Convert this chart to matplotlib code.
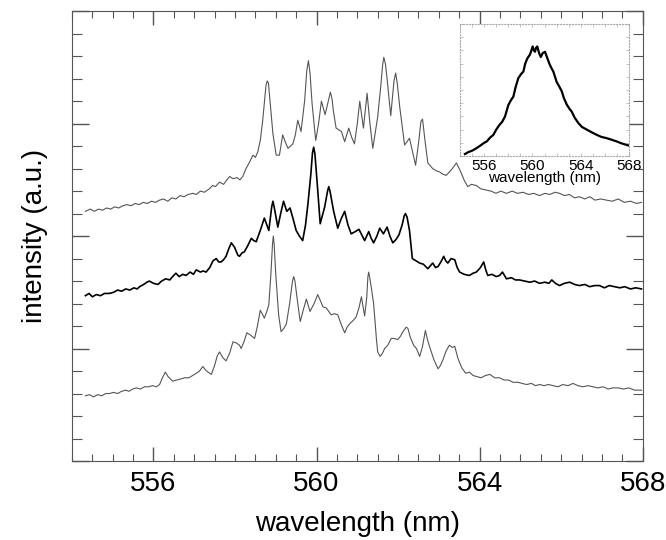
import numpy as np
import matplotlib
matplotlib.use('Agg')
import matplotlib.pyplot as plt
import matplotlib.ticker as tic

plt.rcParams['font.family'] = ['Liberation Sans', 'DejaVu Sans']

# top spectrum (thin grey)
wl_top = [554.33, 554.45, 554.55, 554.65, 554.75, 554.85, 554.95, 555.05, 555.15, 555.25,
          555.35, 555.45, 555.55, 555.65, 555.75, 555.85, 555.95, 556.05, 556.15, 556.25,
          556.35, 556.45, 556.55, 556.65, 556.75, 556.85, 556.96, 557.05, 557.15, 557.25,
          557.37, 557.45, 557.52, 557.62, 557.72, 557.80, 557.87, 557.95, 558.05, 558.12,
          558.19, 558.27, 558.36, 558.44, 558.50, 558.56, 558.62, 558.68, 558.73, 558.76,
          558.79, 558.82, 558.85, 558.93, 559.01, 559.09, 559.17, 559.23, 559.30, 559.36,
          559.42, 559.48, 559.54, 559.62, 559.71, 559.76, 559.80, 559.84, 559.89, 559.98,
          560.05, 560.12, 560.21, 560.30, 560.34, 560.38, 560.41, 560.48, 560.61, 560.69,
          560.79, 560.86, 560.93, 561.00, 561.06, 561.15, 561.24, 561.31, 561.38, 561.50,
          561.58, 561.62, 561.65, 561.69, 561.73, 561.82, 561.90, 561.94, 561.98, 562.04,
          562.16, 562.28, 562.36, 562.43, 562.51, 562.56, 562.60, 562.66, 562.73, 562.85,
          562.94, 563.02, 563.10, 563.18, 563.31, 563.43, 563.50, 563.55, 563.63, 563.71,
          563.80, 563.92, 564.03, 564.16, 564.28, 564.40, 564.52, 564.66, 564.80, 564.93,
          565.06, 565.20, 565.33, 565.47, 565.60, 565.72, 565.85, 565.96, 566.08, 566.20,
          566.33, 566.45, 566.58, 566.70, 566.83, 566.97, 567.11, 567.25, 567.40, 567.55,
          567.70, 567.85, 567.97]
i_top = [2.22, 2.24, 2.22, 2.24, 2.23, 2.25, 2.24, 2.26, 2.25, 2.27,
         2.28, 2.27, 2.29, 2.28, 2.30, 2.29, 2.31, 2.30, 2.32, 2.33,
         2.31, 2.34, 2.33, 2.36, 2.35, 2.37, 2.38, 2.37, 2.40, 2.39,
         2.42, 2.45, 2.44, 2.48, 2.46, 2.50, 2.53, 2.51, 2.52, 2.50,
         2.53, 2.60, 2.66, 2.72, 2.70, 2.75, 2.85, 3.03, 3.22, 3.34,
         3.38, 3.36, 3.24, 2.91, 2.72, 2.72, 2.90, 2.84, 2.78, 2.80,
         2.82, 2.90, 3.03, 2.93, 3.21, 3.47, 3.56, 3.45, 3.18, 2.85,
         3.00, 3.20, 3.08, 3.22, 3.28, 3.22, 3.12, 2.96, 2.93, 2.84,
         2.96, 2.88, 2.82, 3.00, 3.20, 2.96, 3.27, 3.00, 2.78, 3.06,
         3.35, 3.52, 3.59, 3.53, 3.40, 3.07, 3.38, 3.45, 3.36, 3.15,
         2.81, 2.87, 2.74, 2.63, 2.85, 3.02, 3.04, 2.85, 2.65, 2.60,
         2.58, 2.57, 2.55, 2.54, 2.59, 2.65, 2.60, 2.56, 2.49, 2.44,
         2.46, 2.45, 2.42, 2.41, 2.40, 2.38, 2.40, 2.38, 2.40, 2.38,
         2.39, 2.37, 2.38, 2.36, 2.38, 2.37, 2.39, 2.38, 2.36, 2.37,
         2.34, 2.35, 2.33, 2.35, 2.32, 2.33, 2.32, 2.31, 2.33, 2.30,
         2.31, 2.29, 2.30]

# middle spectrum (black)
wl_mid = [554.33, 554.42, 554.50, 554.60, 554.70, 554.80, 554.92, 555.02, 555.12, 555.22,
          555.32, 555.42, 555.52, 555.60, 555.66, 555.76, 555.84, 555.90, 556.00, 556.11,
          556.20, 556.30, 556.40, 556.47, 556.55, 556.63, 556.72, 556.80, 556.90, 556.98,
          557.05, 557.15, 557.22, 557.29, 557.38, 557.46, 557.54, 557.60, 557.66, 557.72,
          557.78, 557.85, 557.91, 557.99, 558.07, 558.11, 558.17, 558.23, 558.32, 558.40,
          558.46, 558.52, 558.62, 558.72, 558.78, 558.83, 558.90, 558.93, 558.96, 559.05,
          559.12, 559.19, 559.27, 559.35, 559.42, 559.50, 559.58, 559.66, 559.73, 559.79,
          559.86, 559.90, 559.93, 559.96, 560.01, 560.09, 560.20, 560.27, 560.30, 560.33,
          560.42, 560.52, 560.60, 560.69, 560.77, 560.85, 560.95, 561.04, 561.11, 561.18,
          561.28, 561.34, 561.40, 561.48, 561.55, 561.64, 561.73, 561.80, 561.87, 561.95,
          562.02, 562.10, 562.15, 562.18, 562.22, 562.28, 562.35, 562.44, 562.53, 562.62,
          562.73, 562.80, 562.85, 562.92, 562.98, 563.05, 563.12, 563.17, 563.22, 563.30,
          563.39, 563.45, 563.51, 563.62, 563.75, 563.84, 563.92, 564.02, 564.10, 564.15,
          564.20, 564.30, 564.41, 564.49, 564.56, 564.66, 564.78, 564.88, 564.98, 565.10,
          565.23, 565.35, 565.47, 565.60, 565.70, 565.77, 565.86, 565.96, 566.08, 566.21,
          566.33, 566.45, 566.58, 566.70, 566.82, 566.94, 567.06, 567.18, 567.31, 567.44,
          567.56, 567.70, 567.83, 567.97]
i_mid = [1.47, 1.49, 1.46, 1.48, 1.47, 1.49, 1.49, 1.50, 1.52, 1.51,
         1.53, 1.52, 1.54, 1.53, 1.55, 1.57, 1.59, 1.60, 1.58, 1.57,
         1.60, 1.62, 1.61, 1.64, 1.67, 1.64, 1.66, 1.65, 1.68, 1.66,
         1.70, 1.68, 1.69, 1.68, 1.72, 1.78, 1.80, 1.77, 1.77, 1.79,
         1.82, 1.89, 1.94, 1.90, 1.83, 1.82, 1.85, 1.86, 1.92, 1.98,
         1.96, 1.95, 2.05, 2.16, 2.10, 2.05, 2.26, 2.31, 2.26, 2.08,
         2.20, 2.31, 2.22, 2.25, 2.16, 2.05, 2.00, 1.96, 2.10, 2.29,
         2.55, 2.74, 2.79, 2.73, 2.50, 2.11, 2.26, 2.40, 2.44, 2.40,
         2.22, 2.07, 2.15, 2.22, 2.10, 2.02, 2.04, 2.06, 2.01, 1.96,
         2.04, 1.98, 1.94, 2.00, 2.07, 2.02, 2.08, 2.00, 1.94, 1.97,
         2.01, 2.10, 2.18, 2.20, 2.17, 2.05, 1.80, 1.78, 1.76, 1.75,
         1.71, 1.74, 1.76, 1.72, 1.73, 1.77, 1.82, 1.78, 1.76, 1.80,
         1.79, 1.72, 1.68, 1.66, 1.65, 1.67, 1.68, 1.72, 1.77, 1.70,
         1.65, 1.66, 1.64, 1.65, 1.68, 1.62, 1.63, 1.61, 1.61, 1.60,
         1.59, 1.60, 1.58, 1.59, 1.58, 1.61, 1.58, 1.56, 1.58, 1.59,
         1.57, 1.56, 1.57, 1.55, 1.56, 1.56, 1.54, 1.56, 1.55, 1.54,
         1.55, 1.53, 1.54, 1.53]

# bottom spectrum (thin grey)
wl_bot = [554.33, 554.43, 554.53, 554.63, 554.73, 554.83, 554.92, 555.02, 555.12, 555.22,
          555.32, 555.40, 555.49, 555.58, 555.68, 555.78, 555.88, 555.98, 556.07, 556.15,
          556.22, 556.29, 556.36, 556.47, 556.57, 556.67, 556.77, 556.87, 556.96, 557.05,
          557.13, 557.21, 557.30, 557.42, 557.50, 557.56, 557.62, 557.70, 557.78, 557.87,
          557.95, 558.03, 558.11, 558.15, 558.22, 558.29, 558.38, 558.48, 558.55, 558.62,
          558.68, 558.72, 558.78, 558.83, 558.88, 558.92, 558.94, 558.96, 559.00, 559.07,
          559.13, 559.20, 559.26, 559.34, 559.41, 559.44, 559.47, 559.54, 559.60, 559.68,
          559.75, 559.84, 559.94, 560.03, 560.10, 560.16, 560.24, 560.30, 560.36, 560.44,
          560.52, 560.60, 560.69, 560.75, 560.81, 560.90, 560.97, 561.04, 561.10, 561.18,
          561.23, 561.26, 561.28, 561.30, 561.34, 561.40, 561.47, 561.50, 561.56, 561.62,
          561.67, 561.75, 561.83, 561.90, 561.99, 562.06, 562.12, 562.20, 562.24, 562.30,
          562.38, 562.45, 562.53, 562.60, 562.67, 562.72, 562.77, 562.88, 562.98, 563.04,
          563.10, 563.18, 563.26, 563.33, 563.39, 563.47, 563.56, 563.66, 563.75, 563.84,
          563.94, 564.04, 564.14, 564.25, 564.37, 564.49, 564.60, 564.71, 564.82, 564.94,
          565.05, 565.15, 565.27, 565.37, 565.47, 565.58, 565.69, 565.80, 565.92, 566.04,
          566.17, 566.29, 566.41, 566.53, 566.66, 566.78, 566.90, 567.03, 567.15, 567.27,
          567.40, 567.53, 567.66, 567.80, 567.97]
i_bot = [0.58, 0.59, 0.57, 0.59, 0.58, 0.60, 0.60, 0.61, 0.60, 0.62,
         0.63, 0.62, 0.64, 0.65, 0.64, 0.66, 0.66, 0.67, 0.66, 0.68,
         0.74, 0.79, 0.75, 0.71, 0.72, 0.73, 0.74, 0.74, 0.76, 0.78,
         0.80, 0.84, 0.80, 0.77, 0.85, 0.93, 0.97, 0.92, 0.89, 0.96,
         1.06, 1.05, 1.03, 1.00, 1.06, 1.14, 1.12, 1.09, 1.20, 1.34,
         1.30, 1.27, 1.33, 1.39, 1.66, 1.93, 2.00, 1.93, 1.66, 1.30,
         1.15, 1.18, 1.22, 1.40, 1.60, 1.64, 1.60, 1.40, 1.24, 1.35,
         1.44, 1.33, 1.40, 1.48, 1.42, 1.37, 1.36, 1.33, 1.30, 1.31,
         1.30, 1.22, 1.14, 1.19, 1.22, 1.25, 1.28, 1.36, 1.46, 1.29,
         1.45, 1.64, 1.68, 1.64, 1.55, 1.40, 1.08, 0.97, 0.93, 0.96,
         1.00, 1.03, 1.09, 1.09, 1.08, 1.11, 1.15, 1.19, 1.18, 1.10,
         1.03, 1.00, 0.93, 1.02, 1.16, 1.08, 1.02, 0.90, 0.82, 0.85,
         0.90, 0.98, 1.03, 1.01, 1.02, 0.91, 0.83, 0.78, 0.79, 0.76,
         0.75, 0.74, 0.76, 0.77, 0.74, 0.74, 0.72, 0.72, 0.70, 0.70,
         0.69, 0.68, 0.69, 0.67, 0.68, 0.67, 0.68, 0.67, 0.66, 0.68,
         0.67, 0.69, 0.67, 0.66, 0.67, 0.66, 0.65, 0.66, 0.64, 0.65,
         0.65, 0.64, 0.65, 0.63, 0.63]

# inset: broad spectrum
wl_ins = [554.41, 554.70, 555.00, 555.38, 555.70, 556.00, 556.21, 556.50, 556.76, 557.00,
          557.26, 557.50, 557.73, 558.00, 558.20, 558.42, 558.60, 558.83, 559.05, 559.25,
          559.40, 559.58, 559.80, 560.02, 560.12, 560.21, 560.30, 560.40, 560.55, 560.69,
          560.85, 561.04, 561.20, 561.40, 561.55, 561.73, 562.01, 562.20, 562.43, 562.60,
          562.84, 563.05, 563.26, 563.50, 563.80, 564.10, 564.50, 564.90, 565.33, 565.70,
          566.16, 566.50, 566.99, 567.40, 567.95]
i_ins = [0.015, 0.03, 0.04, 0.06, 0.08, 0.10, 0.11, 0.14, 0.16, 0.20,
         0.235, 0.26, 0.30, 0.385, 0.42, 0.45, 0.52, 0.59, 0.62, 0.64,
         0.70, 0.74, 0.77, 0.83, 0.80, 0.79, 0.82, 0.83, 0.78, 0.75,
         0.78, 0.79, 0.75, 0.70, 0.67, 0.64, 0.56, 0.53, 0.49, 0.44,
         0.39, 0.36, 0.335, 0.29, 0.25, 0.22, 0.20, 0.18, 0.16, 0.145,
         0.135, 0.125, 0.11, 0.095, 0.08]

fig = plt.figure(figsize=(6.66, 5.4), dpi=100)
ax = fig.add_axes([0.108, 0.1463, 0.857, 0.833])
ax.plot(wl_top, i_top, c='#555555', linewidth=0.8)
ax.plot(wl_mid, i_mid, c='black', linewidth=1.2)
ax.plot(wl_bot, i_bot, c='#555555', linewidth=0.8)
ax.set_xlim(554, 568)
ax.set_ylim(0, 4)
ax.xaxis.set_major_locator(tic.FixedLocator([556, 560, 564, 568]))
ax.xaxis.set_minor_locator(tic.MultipleLocator(0.5))
ax.yaxis.set_major_locator(tic.MultipleLocator(1))
ax.yaxis.set_minor_locator(tic.MultipleLocator(0.2))
ax.tick_params(which='both', direction='in', top=True, right=True, color='#555555')
ax.tick_params(which='major', length=10, width=1, labelsize=20, pad=7)
ax.tick_params(which='minor', length=5, width=0.8)
ax.tick_params(axis='y', which='major', length=12)
ax.tick_params(axis='y', which='minor', length=7)
ax.set_yticklabels([])
for s in ax.spines.values():
    s.set_color('#555555')
ax.set_xlabel('wavelength (nm)', fontsize=20, labelpad=10)
ax.set_ylabel('intensity (a.u.)', fontsize=20, labelpad=10)

ins = fig.add_axes([0.6907, 0.7111, 0.2538, 0.2444])
ins.plot(wl_ins, i_ins, c='black', linewidth=1.6)
ins.set_xlim(554, 568)
ins.set_ylim(0, 1)
ins.xaxis.set_major_locator(tic.FixedLocator([556, 560, 564, 568]))
ins.xaxis.set_minor_locator(tic.MultipleLocator(1))
ins.yaxis.set_major_locator(tic.MultipleLocator(0.2))
ins.yaxis.set_minor_locator(tic.MultipleLocator(0.1))
ins.tick_params(which='both', direction='in', top=True, right=True, color='#bbbbbb',
                length=2, width=0.6, labelsize=11, pad=2)
ins.set_yticklabels([])
for s in ins.spines.values():
    s.set_color('#aaaaaa')
    s.set_linestyle(':')
    s.set_linewidth(0.8)
ins.set_xlabel('wavelength (nm)', fontsize=11, labelpad=-1)

fig.savefig('out.png', dpi=100)
